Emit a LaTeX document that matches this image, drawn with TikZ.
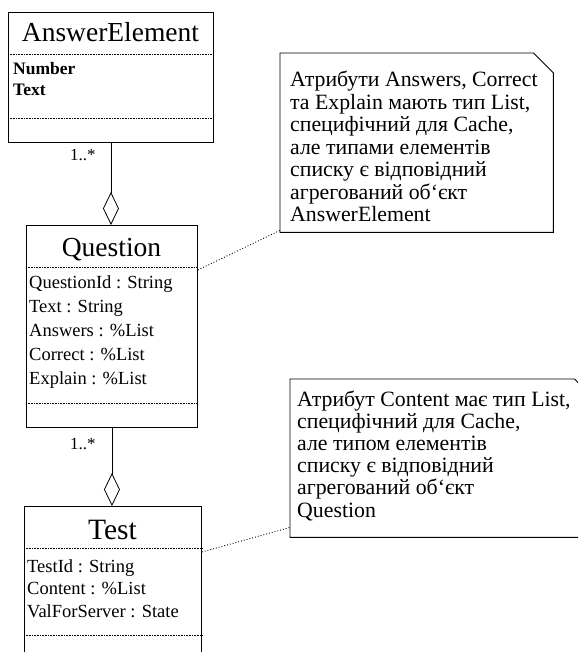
\documentclass[tikz,border=0pt]{standalone}
\usepackage{fontspec}
\setmainfont{Liberation Serif}
\usetikzlibrary{arrows.meta}
\begin{document}
\begin{tikzpicture}[x=1pt,y=-1pt,
  box/.style={draw, line width=0.9pt, inner sep=0pt, anchor=north west},
  sepline/.style={line width=0.6pt, densely dotted},
  title/.style={font=\fontsize{27.5}{30}\selectfont, anchor=base, inner sep=0pt},
  attr/.style={font=\fontsize{18.5}{20}\selectfont, anchor=base west, inner sep=0pt},
  battr/.style={font=\fontsize{17.5}{20}\selectfont\bfseries, anchor=base west, inner sep=0pt},
  mult/.style={font=\fontsize{17}{20}\selectfont, anchor=base west, inner sep=0pt},
  notetext/.style={font=\fontsize{21.8}{23}\selectfont, anchor=base west, inner sep=0pt},
  noteshape/.style={inner sep=0pt, anchor=north west},
  aggr/.style={line width=0.8pt, -{Diamond[open, length=33pt, width=16pt, line width=0.8pt]}},
  anchorline/.style={line width=0.9pt, dotted},
  noteline/.style={line width=0.9pt}
]
\clip (0,0) rectangle (578,652);
\fill[white] (0,0) rectangle (578,652);

% AnswerElement
\node[box, minimum width=205pt, minimum height=130pt] (ae) at (8,12) {};
\draw[sepline] ([yshift=-42pt]ae.north west) -- ([yshift=-42pt]ae.north east);
\draw[sepline] ([yshift=25pt]ae.south west) -- ([yshift=25pt]ae.south east);
\node[title] (aet) at (110.5,42) {AnswerElement};
\node[battr] (ae1) at (13,75) {Number};
\node[battr] (ae2) at (13,96) {Text};

% Question
\node[box, minimum width=171pt, minimum height=202pt] (q) at (26,225) {};
\draw[sepline] ([yshift=-42pt]q.north west) -- ([yshift=-42pt]q.north east);
\draw[sepline] ([yshift=25pt]q.south west) -- ([yshift=25pt]q.south east);
\node[title] (qt) at (111.5,256) {Question};
\node[attr] (q1) at (29,288) {QuestionId : String};
\node[attr] (q2) at (29,312) {Text : String};
\node[attr] (q3) at (29,336) {Answers : \%List};
\node[attr] (q4) at (29,360) {Correct : \%List};
\node[attr] (q5) at (29,384) {Explain : \%List};

% Test
\node[box, minimum width=177pt, minimum height=160pt] (t) at (24,506) {};
\draw[sepline] ([yshift=-42pt]t.north west) -- ([yshift=-42pt]t.north east);
\draw[sepline] ([yshift=-129pt]t.north west) -- ([yshift=-129pt]t.north east);
\node[title, font=\fontsize{29.5}{32}\selectfont] (tt) at (112.5,539) {Test};
\node[attr] (t1) at (27,572) {TestId : String};
\node[attr] (t2) at (27,594) {Content : \%List};
\node[attr] (t3) at (27,617) {ValForServer : State};

% aggregations
\draw[aggr] (ae.south) -- (ae.south |- q.north);
\draw[aggr] (q.south) -- (q.south |- t.north);
\node[mult] (m1) at (70,161) {1..*};
\node[mult] (m2) at (70,449) {1..*};

% note 1
\node[noteshape, minimum width=273pt, minimum height=179pt] (n1) at (280,53) {};
\draw[noteline] (n1.north west) -- ([xshift=-20pt]n1.north east) -- ([yshift=-20pt]n1.north east) -- (n1.south east) -- (n1.south west) -- cycle;
\foreach \s [count=\i] in {{Атрибути Answers, Correct},{та Explain мають тип List,},{специфічний для Cache,},{але типами елементів},{списку є відповідний},{агрегований об\symbol{96}єкт},{AnswerElement}}
  \node[notetext] (n1t\i) at (290,{87+22.5*(\i-1)}) {\s};

% note 2
\node[noteshape, minimum width=304pt, minimum height=158pt] (n2) at (290,379) {};
\draw[noteline] (n2.north west) -- ([xshift=-20pt]n2.north east) -- ([yshift=-20pt]n2.north east) -- (n2.south east) -- (n2.south west) -- cycle;
\foreach \s [count=\i] in {{Атрибут Content має тип List,},{специфічний для Cache,},{але типом елементів},{списку є відповідний},{агрегований об\symbol{96}єкт},{Question}}
  \node[notetext] (n2t\i) at (297,{406+22.2*(\i-1)}) {\s};

% note anchors
\draw[anchorline] ([yshift=-45pt]q.north east) -- ([yshift=2pt]n1.south west);
\draw[anchorline] ([yshift=-46pt]t.north east) -- ([yshift=10pt]n2.south west);
\end{tikzpicture}
\end{document}
